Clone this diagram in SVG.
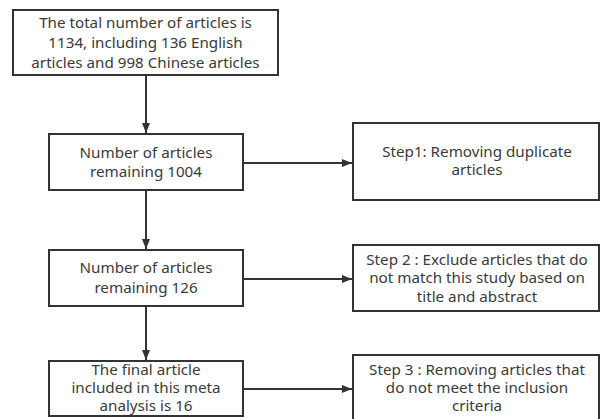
<svg xmlns="http://www.w3.org/2000/svg" width="601" height="419" viewBox="0 0 601 419">
<style>
.box{fill:#fff;stroke:#333;stroke-width:2}
.t{font-family:"Noto Sans","Open Sans","Liberation Sans",sans-serif;font-size:15.2px;fill:#3a3a3a;text-anchor:middle}
.c{stroke:#333;stroke-width:2;fill:none}
</style>
<defs>
<marker id="ah" markerWidth="10" markerHeight="8" refX="10" refY="4" orient="auto" markerUnits="userSpaceOnUse">
<path d="M0,0 L10,4 L0,8 Z" fill="#333"/>
</marker>
</defs>
<rect width="601" height="419" fill="#fff"/>
<g id="connectors">
<line class="c" x1="146" y1="75" x2="146" y2="133" marker-end="url(#ah)"/>
<line class="c" x1="146" y1="190" x2="146" y2="249" marker-end="url(#ah)"/>
<line class="c" x1="146" y1="306" x2="146" y2="360" marker-end="url(#ah)"/>
<line class="c" x1="243" y1="163" x2="352" y2="163" marker-end="url(#ah)"/>
<line class="c" x1="243" y1="279" x2="352" y2="279" marker-end="url(#ah)"/>
<line class="c" x1="243" y1="389" x2="352" y2="389" marker-end="url(#ah)"/>
</g>
<g id="n1">
<rect class="box" x="13" y="10" width="265" height="65"/>
<text class="t" x="145.5" y="28">The total number of articles is</text>
<text class="t" x="145.5" y="48">1134, including 136 English</text>
<text class="t" x="145.5" y="68">articles and 998 Chinese articles</text>
</g>
<g id="n2">
<rect class="box" x="49" y="134" width="194" height="56"/>
<text class="t" x="146" y="158">Number of articles</text>
<text class="t" x="146" y="177">remaining 1004</text>
</g>
<g id="n3">
<rect class="box" x="49" y="250" width="194" height="56"/>
<text class="t" x="146" y="273">Number of articles</text>
<text class="t" x="146" y="293">remaining 126</text>
</g>
<g id="n4">
<rect class="box" x="49" y="361" width="194" height="55"/>
<text class="t" x="146" y="375">The final article</text>
<text class="t" x="146" y="393">included in this meta</text>
<text class="t" x="146" y="411">analysis is 16</text>
</g>
<g id="s1">
<rect class="box" x="353" y="123" width="246" height="77"/>
<text class="t" x="477" y="157">Step1: Removing duplicate</text>
<text class="t" x="477" y="175">articles</text>
</g>
<g id="s2">
<rect class="box" x="353" y="245" width="246" height="66"/>
<text class="t" x="477" y="265">Step 2 : Exclude articles that do</text>
<text class="t" x="477" y="283">not match this study based on</text>
<text class="t" x="477" y="302">title and abstract</text>
</g>
<g id="s3">
<rect class="box" x="353" y="355" width="246" height="70"/>
<text class="t" x="477" y="375">Step 3 : Removing articles that</text>
<text class="t" x="477" y="393">do not meet the inclusion</text>
<text class="t" x="477" y="411">criteria</text>
</g>
</svg>
